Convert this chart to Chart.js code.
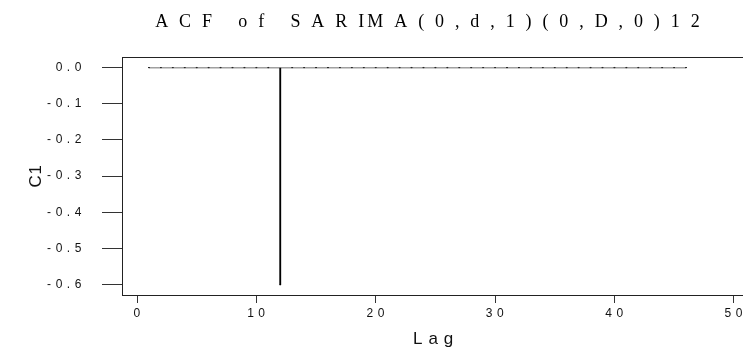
<!DOCTYPE html>
<html><head><meta charset="utf-8">
<style>html,body{margin:0;padding:0;background:#fff;overflow:hidden}#wrap{width:750px;height:355px;position:relative}</style>
<script src="https://cdn.jsdelivr.net/npm/chart.js@4/dist/chart.umd.min.js"></script>
</head><body><div id="wrap"><canvas id="c" width="750" height="355"></canvas></div>
<script>
const chartTitle = "A C F   o f   S A R IM A ( 0 , d , 1 ) ( 0 , D , 0 ) 1 2";
const xAxisTitle = "L a g";
const yAxisTitle = "C1";
const lags = [1,2,3,4,5,6,7,8,9,10,11,12,13,14,15,16,17,18,19,20,21,22,23,24,25,26,27,28,29,30,31,32,33,34,35,36,37,38,39,40,41,42,43,44,45,46];
const acfValues = [0,0,0,0,0,0,0,0,0,0,0,-0.6,0,0,0,0,0,0,0,0,0,0,0,0,0,0,0,0,0,0,0,0,0,0,0,0,0,0,0,0,0,0,0,0,0,0];
const zeroLineX = [1, 46];
const zeroLineY = [0, 0];
const xTickValues = [0,10,20,30,40,50];
const xTickLabels = ["0","1 0","2 0","3 0","4 0","5 0"];
const yTickValues = [0,-0.1,-0.2,-0.3,-0.4,-0.5,-0.6];
const yTickLabels = ["0 . 0","- 0 . 1","- 0 . 2","- 0 . 3","- 0 . 4","- 0 . 5","- 0 . 6"];

const acfPoints = lags.map((l,i)=>({x:l, y:acfValues[i]}));
const refPoints = zeroLineX.map((x,i)=>({x:x, y:zeroLineY[i]}));

const framePlugin = {
  id: 'frame',
  beforeDraw(chart) {
    chart.ctx.letterSpacing = '0.6px';
  },
  afterDatasetsDraw(chart) {
    const {ctx, chartArea:a} = chart;
    ctx.save();
    ctx.strokeStyle = '#222';
    ctx.lineWidth = 1;
    ctx.strokeRect(Math.round(a.left)+0.5, Math.round(a.top)+0.5, Math.round(a.right-a.left), Math.round(a.bottom-a.top));
    ctx.restore();
  },
  afterDraw(chart) {
    const ctx = chart.ctx;
    ctx.save();
    ctx.fillStyle = '#000';
    ctx.letterSpacing = '3.2px';
    ctx.font = '18px "Liberation Serif", "Times New Roman", serif';
    ctx.textAlign = 'center';
    ctx.textBaseline = 'middle';
    ctx.fillText(chartTitle, 429, 22);
    ctx.restore();
  }
};

const tickFont = {family: '"Liberation Sans", Arial, sans-serif', size: 12};
const titleFont = {family: '"Liberation Sans", Arial, sans-serif', size: 17};
new Chart(document.getElementById('c'), {
  type: 'bar',
  data: {
    datasets: [
      {type:'bar', data: acfPoints, backgroundColor:'#000', borderWidth:0, barThickness:1.2, order:1},
      {type:'scatter', data: acfPoints, pointStyle:'rect', pointRadius:1, backgroundColor:'#777', borderWidth:0, order:2},
      {type:'line', data: refPoints, borderColor:'#a0a0a0', borderWidth:1.5, pointRadius:0, order:3}
    ]
  },
  options: {
    responsive: false,
    devicePixelRatio: 1,
    animation: false,
    layout: {padding: {top:57, right:5, bottom:0, left:0}},
    plugins: {legend:{display:false}, tooltip:{enabled:false}, title:{display:false}},
    scales: {
      x: {
        type:'linear', min:-1.258, max:50.94, offset:false,
        afterFit(s){ s.height = 60; },
        afterBuildTicks(s){ s.ticks = xTickValues.map(v=>({value:v})); },
        border:{display:false},
        grid:{display:true, offset:false, drawOnChartArea:false, drawTicks:true, tickLength:8, color:'#333', lineWidth:1},
        ticks:{autoSkip:false, maxRotation:0, padding:3, color:'#111', font:tickFont,
          callback:(v,i)=>xTickLabels[i]},
        title:{display:true, text:xAxisTitle, color:'#111', font:titleFont, padding:{top:0,bottom:5}}
      },
      y: {
        type:'linear', min:-0.6285, max:0.0294,
        afterFit(s){ s.width = 122; },
        afterBuildTicks(s){ s.ticks = yTickValues.map(v=>({value:v})); },
        border:{display:false},
        grid:{display:true, drawOnChartArea:false, drawTicks:true, tickLength:20, color:'#333', lineWidth:1},
        ticks:{autoSkip:false, padding:20, color:'#111', font:tickFont,
          callback:(v,i)=>yTickLabels[i]},
        title:{display:true, text:yAxisTitle, color:'#111', font:titleFont, padding:{top:26,bottom:0}}
      }
    }
  },
  plugins:[framePlugin]
});
</script>
</body></html>
